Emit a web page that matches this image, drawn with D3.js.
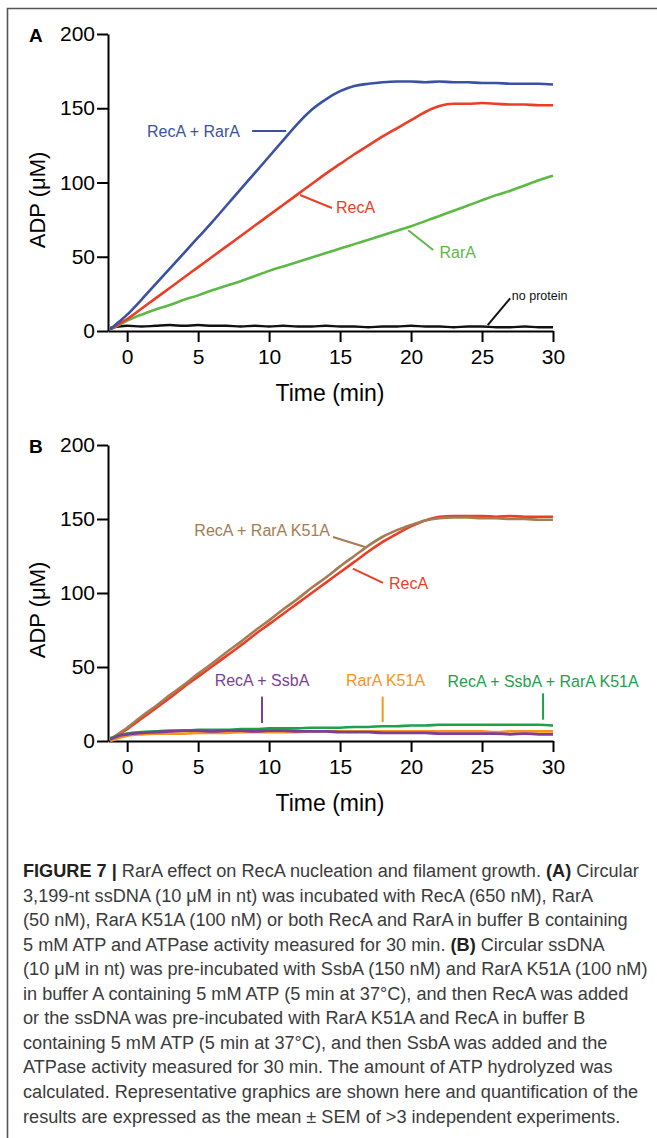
<!DOCTYPE html>
<html>
<head>
<meta charset="utf-8">
<script src="https://cdn.jsdelivr.net/npm/d3@7"></script>
<style>
  html, body { margin: 0; padding: 0; background: #fff; }
  svg { display: block; }
</style>
</head>
<body>
<svg id="fig" width="657" height="1138"></svg>
<script>
// sampling times (min), shared by every trace
const minutes = [-1.2, -0.6, 0, 1, 2, 3, 4, 5, 6, 7, 8, 9, 10, 11, 12, 13, 14, 15,
  16, 17, 18, 19, 20, 21, 22, 23, 24, 25, 26, 27, 28, 29, 30];

const xTicks = [0, 5, 10, 15, 20, 25, 30];
const yTicks = [0, 50, 100, 150, 200];

// panel A, ADP (uM)
const noProteinA = [2, 3, 3.5, 3, 3.5, 4, 3.5, 4, 3.5, 3.5, 3, 3.5, 3, 3.5, 3, 3, 3.5,
  3, 3, 2.5, 3, 3, 3.5, 3, 3, 2.5, 3, 3, 2.5, 2.5, 3, 2.5, 2.5];
const rarA_A = [1, 4, 7, 11, 14.5, 17.5, 21, 24, 27.5, 30.5, 33.5, 37, 40.5,
  43.5, 46.5, 49.5, 52.5, 55.5, 58.5, 61.5, 64.5, 67.5, 70.5, 74, 77.5, 81, 84.5, 88,
  91.5, 94.5, 98, 101.5, 104.5];
const recA_A = [1, 4.5, 8, 15, 22, 29, 36, 43, 50, 57, 64, 71, 78, 85, 92, 99, 106, 112.5,
  119, 125, 131, 136.5, 142, 147.5, 151.5, 153, 153, 153.5, 153, 152.5, 152.5, 152, 152];
const recARarA_A = [1, 6, 11, 21, 31.5, 42, 52.5, 63, 73.5, 84.5, 95.5, 106.5, 117.5,
  128.5, 139.5, 149, 156, 161.5, 165, 166.5, 167.5, 168, 168, 167.5, 168, 167.5, 167.5,
  167, 167, 166.5, 166.5, 166.5, 166];

// panel B, ADP (uM)
const recA_B = [1, 4.5, 8, 15, 22, 29, 36.5, 43.5, 50.5, 57.5, 64.5, 72, 79, 86, 93, 100,
  107, 114, 121, 128, 134.5, 140, 145, 149, 151.5, 152, 152, 152, 151.5, 152, 151.5,
  151.5, 151.5];
const recARarAK51A_B = [1, 5, 9, 16.5, 23.5, 31, 38, 45.5, 52.5, 60, 67, 74.5, 81.5, 89,
  96, 103.5, 110.5, 118, 125, 132, 138, 142.5, 146, 149, 150.5, 151, 151, 150.5, 150.5,
  150, 150, 149.5, 149.5];
const recASsbARarAK51A_B = [2, 3.5, 5, 6, 6.5, 7, 7, 7.5, 7.5, 7.5, 8, 8, 8.5, 8.5, 8.5,
  9, 9, 9, 9.5, 9.5, 10, 10, 10.5, 10.5, 11, 11, 11, 11, 11, 11, 11, 11, 10.5];
const rarAK51A_B = [0, 2, 3.5, 4.5, 5, 5, 5, 5.5, 5.5, 5.5, 6, 6, 6, 6, 6, 6.5, 6.5, 6.5,
  6.5, 6.5, 6.5, 6.5, 6.5, 6.5, 6.5, 6.5, 6.5, 6.5, 6, 6.5, 6.5, 6.5, 6.5];
const recASsbA_B = [1, 3.5, 4.5, 5.5, 6, 6.5, 7, 7, 6.5, 7, 7, 6.5, 7, 7, 6.5, 6.5, 6.5,
  6, 6, 6, 5.5, 5.5, 5.5, 5.5, 5, 5, 5, 5, 5, 4.5, 5, 4.5, 4.5];

const captionLines = [
  [["FIGURE 7 | ", true], ["RarA effect on RecA nucleation and filament growth. ", false], ["(A)", true], [" Circular", false]],
  [["3,199-nt ssDNA (10 \u03bcM in nt) was incubated with RecA (650 nM), RarA", false]],
  [["(50 nM), RarA K51A (100 nM) or both RecA and RarA in buffer B containing", false]],
  [["5 mM ATP and ATPase activity measured for 30 min. ", false], ["(B)", true], [" Circular ssDNA", false]],
  [["(10 \u03bcM in nt) was pre-incubated with SsbA (150 nM) and RarA K51A (100 nM)", false]],
  [["in buffer A containing 5 mM ATP (5 min at 37\u00b0C), and then RecA was added", false]],
  [["or the ssDNA was pre-incubated with RarA K51A and RecA in buffer B", false]],
  [["containing 5 mM ATP (5 min at 37\u00b0C), and then SsbA was added and the", false]],
  [["ATPase activity measured for 30 min. The amount of ATP hydrolyzed was", false]],
  [["calculated. Representative graphics are shown here and quantification of the", false]],
  [["results are expressed as the mean \u00b1 SEM of >3 independent experiments.", false]]
];

const FONT = "'Liberation Sans', Arial, Helvetica, sans-serif";

const panels = [
  {
    letter: "A", top: 34, bottom: 331,
    series: [
      { values: noProteinA, color: "#111111", w: 2.4 },
      { values: rarA_A, color: "#5cb946", w: 2.6 },
      { values: recA_A, color: "#ee3d26", w: 2.6 },
      { values: recARarA_A, color: "#3a51a3", w: 2.6 }
    ],
    // leader line ends and label baseline, in data units (min, uM)
    notes: [
      { text: "RecA + RarA", color: "#3a51a3", line: [[8.8, 134.7], [11.2, 134.7]], label: [7.95, 130.6], anchor: "end", size: 16 },
      { text: "RecA", color: "#ee3d26", line: [[12.18, 91.6], [14.43, 82.8]], label: [14.71, 79.5], anchor: "start", size: 16 },
      { text: "RarA", color: "#5cb946", line: [[19.8, 67.9], [21.56, 54.5]], label: [22.0, 49.4], anchor: "start", size: 16 },
      { text: "no protein", color: "#111111", line: [[25.4, 4.0], [26.98, 22.0]], label: [27.1, 20.9], anchor: "start", size: 12.5 }
    ]
  },
  {
    letter: "B", top: 445, bottom: 741,
    series: [
      { values: recA_B, color: "#ee3d26", w: 2.6 },
      { values: recARarAK51A_B, color: "#a67c52", w: 2.6 },
      { values: recASsbARarAK51A_B, color: "#1fa04b", w: 2.6 },
      { values: rarAK51A_B, color: "#f7941d", w: 2.6 },
      { values: recASsbA_B, color: "#7b3f98", w: 2.8 }
    ],
    notes: [
      { text: "RecA + RarA K51A", color: "#a67c52", line: [[14.5, 137.8], [16.76, 131.1]], label: [14.29, 138.5], anchor: "end", size: 16 },
      { text: "RecA", color: "#ee3d26", line: [[15.9, 116.5], [18.03, 106.8]], label: [18.45, 102.7], anchor: "start", size: 16 },
      { text: "RecA + SsbA", color: "#7b3f98", line: [[9.5, 30], [9.5, 12.2]], label: [9.5, 37], anchor: "middle", size: 16 },
      { text: "RarA K51A", color: "#f7941d", line: [[18.0, 30], [18.0, 12.7]], label: [18.2, 37], anchor: "middle", size: 16 },
      { text: "RecA + SsbA + RarA K51A", color: "#1fa04b", line: [[29.3, 32.2], [29.3, 14.4]], label: [29.3, 36.6], anchor: "middle", size: 16 }
    ]
  }
];

const svg = d3.select("#fig");

// frame: top rule and left rule
svg.append("path")
  .attr("d", "M7.5,1138V8.5H657")
  .attr("fill", "none")
  .attr("stroke", "#555")
  .attr("stroke-width", 1.6);

const x = d3.scaleLinear().domain([-1.35, 30]).range([108, 553]);

panels.forEach(p => {
  const y = d3.scaleLinear().domain([0, 200]).range([p.bottom, p.top]);
  const g = svg.append("g");

  const xAxis = g.append("g")
    .attr("transform", `translate(0,${p.bottom})`)
    .call(d3.axisBottom(x).tickValues(xTicks).tickSize(11).tickSizeOuter(0).tickPadding(7));
  const yAxis = g.append("g")
    .attr("transform", `translate(${x.range()[0]},0)`)
    .call(d3.axisLeft(y).tickValues(yTicks).tickSize(11).tickSizeOuter(0).tickPadding(2));

  [xAxis, yAxis].forEach(a => {
    a.select(".domain").attr("stroke", "#000").attr("stroke-width", 2);
    a.selectAll(".tick line").attr("stroke", "#000").attr("stroke-width", 2);
    a.selectAll(".tick text")
      .attr("fill", "#000")
      .style("font-family", FONT)
      .style("font-size", "21px");
  });

  // axis titles
  g.append("text")
    .attr("x", 330)
    .attr("y", p.bottom + 70)
    .attr("text-anchor", "middle")
    .style("font-family", FONT)
    .style("font-size", "23px")
    .text("Time (min)");

  g.append("text")
    .attr("transform", `translate(45,${p.bottom - 131}) rotate(-90)`)
    .attr("text-anchor", "middle")
    .style("font-family", FONT)
    .style("font-size", "22px")
    .text("ADP (\u03bcM)");

  g.append("text")
    .attr("x", 29)
    .attr("y", p.top + 8)
    .style("font-family", FONT)
    .style("font-size", "19px")
    .style("font-weight", "bold")
    .text(p.letter);

  const line = d3.line()
    .x((d, i) => x(minutes[i]))
    .y(d => y(d))
    .curve(d3.curveMonotoneX);

  g.selectAll("path.trace")
    .data(p.series)
    .join("path")
    .attr("class", "trace")
    .attr("d", d => line(d.values))
    .attr("fill", "none")
    .attr("stroke", d => d.color)
    .attr("stroke-width", d => d.w)
    .attr("stroke-linejoin", "round");

  // labels with leader lines
  p.notes.forEach(n => {
    g.append("line")
      .attr("x1", x(n.line[0][0])).attr("y1", y(n.line[0][1]))
      .attr("x2", x(n.line[1][0])).attr("y2", y(n.line[1][1]))
      .attr("stroke", n.color)
      .attr("stroke-width", 2);
    g.append("text")
      .attr("x", x(n.label[0]))
      .attr("y", y(n.label[1]))
      .attr("text-anchor", n.anchor)
      .attr("fill", n.color)
      .style("font-family", FONT)
      .style("font-size", n.size + "px")
      .text(n.text);
  });
});

// caption; font size fitted so the first line spans x 23..639
const cap = svg.append("g")
  .style("font-family", FONT)
  .style("font-size", "17px");
captionLines.forEach((parts, i) => {
  const t = cap.append("text")
    .attr("x", 23)
    .attr("y", 877 + i * 24.55);
  parts.forEach(([s, bold]) => {
    t.append("tspan")
      .attr("fill", bold ? "#231f20" : "#3b3b3b")
      .style("font-weight", bold ? 700 : 400)
      .text(s);
  });
});
const firstLen = cap.select("text").node().getComputedTextLength();
if (firstLen > 0) cap.style("font-size", (17 * 616 / firstLen).toFixed(2) + "px");
</script>
</body>
</html>
